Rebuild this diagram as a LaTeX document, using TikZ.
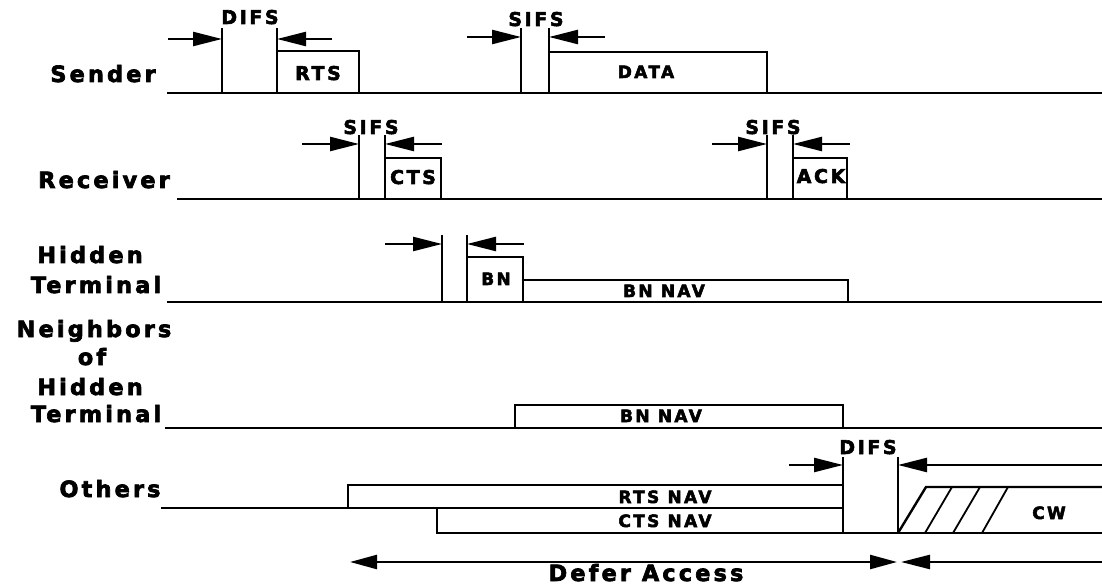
\documentclass[tikz,border=0pt]{standalone}
\usepackage{fontspec}
\newfontfamily\hv{DejaVu Sans Bold}[LetterSpace=14,FakeBold=3]
\usetikzlibrary{arrows.meta}
\begin{document}
\begin{tikzpicture}[x=1bp,y=-1bp,
  tl/.style={line width=2.4bp},
  arr/.style={line width=2.4bp,-{Triangle[length=29bp,width=14bp]}},
  darr/.style={line width=2.4bp,{Triangle[length=27bp,width=14bp]}-{Triangle[length=27bp,width=14bp]}},
  big/.style={font=\hv\fontsize{22.5}{23}\selectfont, inner sep=0, anchor=base},
  mid/.style={font=\hv\fontsize{19}{19}\selectfont, inner sep=0, anchor=base},
  sml/.style={font=\hv\fontsize{17}{17}\selectfont, inner sep=0, anchor=base}]
\useasboundingbox (0,0) rectangle (1102,587);

% ---------- row labels ----------
\node[big] (lsend) at (103,82) {Sender};
\node[big] (lrecv) at (104,188) {Receiver};
\node[big] (lhid1) at (90,263) {Hidden};
\node[big] (lhid2) at (96,293) {Terminal};
\node[big] (lnb1) at (94,337) {Neighbors};
\node[big] (lnb2) at (92,365) {of};
\node[big] (lnb3) at (90,395) {Hidden};
\node[big] (lnb4) at (96,422) {Terminal};
\node[big] (loth) at (110,497) {Others};

% ---------- Sender ----------
\draw[tl] (167,93) -- (1102,93);
\draw[tl] (222,28) -- (222,93);
\draw[tl] (277,28) -- (277,93);
\draw[tl] (277,51) -- (359,51) -- (359,93);
\draw[arr] (168,39) -- (222,39);
\draw[arr] (332,39) -- (277,39);
\node[mid] (difs1) at (250,24) {DIFS};
\node[mid] (rts) at (318,80) {RTS};
\draw[tl] (521,28) -- (521,93);
\draw[tl] (549,28) -- (549,93);
\draw[tl] (549,52) -- (767,52) -- (767,93);
\draw[arr] (467,37) -- (521,37);
\draw[arr] (605,37) -- (549,37);
\node[mid] (sifs1) at (536,26) {SIFS};
\node[sml] (data) at (646,78) {DATA};

% ---------- Receiver ----------
\draw[tl] (177,199) -- (1102,199);
\draw[tl] (359,135) -- (359,199);
\draw[tl] (385,135) -- (385,199);
\draw[tl] (385,158) -- (441,158) -- (441,199);
\draw[arr] (302,144) -- (359,144);
\draw[arr] (442,144) -- (385,144);
\node[mid] (sifs2) at (371,134) {SIFS};
\node[mid] (cts) at (413,184) {CTS};
\draw[tl] (767,135) -- (767,199);
\draw[tl] (793,135) -- (793,199);
\draw[tl] (793,158) -- (847,158) -- (847,199);
\draw[arr] (712,144) -- (767,144);
\draw[arr] (850,144) -- (793,144);
\node[mid] (sifs3) at (773,134) {SIFS};
\node[mid] (ack) at (821,183) {ACK};

% ---------- Hidden terminal ----------
\draw[tl] (167,302) -- (1102,302);
\draw[tl] (442,235) -- (442,302);
\draw[tl] (467,235) -- (467,302);
\draw[tl] (467,257) -- (523,257) -- (523,302);
\draw[tl] (523,280) -- (848,280) -- (848,302);
\draw[arr] (385,244) -- (442,244);
\draw[arr] (524,244) -- (467,244);
\node[sml] (bn) at (496,285) {BN};
\node[sml] (bnnav1) at (664,297) {BN NAV};

% ---------- Neighbors of hidden terminal ----------
\draw[tl] (165,428) -- (1102,428);
\draw[tl] (515,428) -- (515,405) -- (843,405) -- (843,428);
\node[sml] (bnnav2) at (661,422) {BN NAV};

% ---------- Others ----------
\draw[tl] (161,508) -- (348,508);
\draw[tl] (348,508) -- (348,485) -- (843,485);
\draw[tl] (348,508) -- (843,508);
\draw[tl] (437,508) -- (437,533) -- (1102,533);
\draw[tl] (843,457) -- (843,533);
\draw[tl] (898,457) -- (898,533);
\draw[tl] (898,533) -- (926,487) -- (1102,487);
\draw[line width=1.8bp] (925,533) -- (952,487);
\draw[line width=1.8bp] (953,533) -- (980,487);
\draw[line width=1.8bp] (982,533) -- (1008,487);
\draw[arr] (789,465) -- (843,465);
\draw[arr] (1102,465) -- (898,465);
\node[mid] (difs2) at (868,454) {DIFS};
\node[sml] (rtsnav) at (665,503) {RTS NAV};
\node[sml] (ctsnav) at (665,527) {CTS NAV};
\node[sml] (cw) at (1049,519) {CW};

% ---------- Defer access ----------
\draw[darr] (350,562) -- (897,562);
\draw[arr] (1102,562) -- (901,562);
\node[big] (defer) at (646,581) {Defer Access};
\end{tikzpicture}
\end{document}
